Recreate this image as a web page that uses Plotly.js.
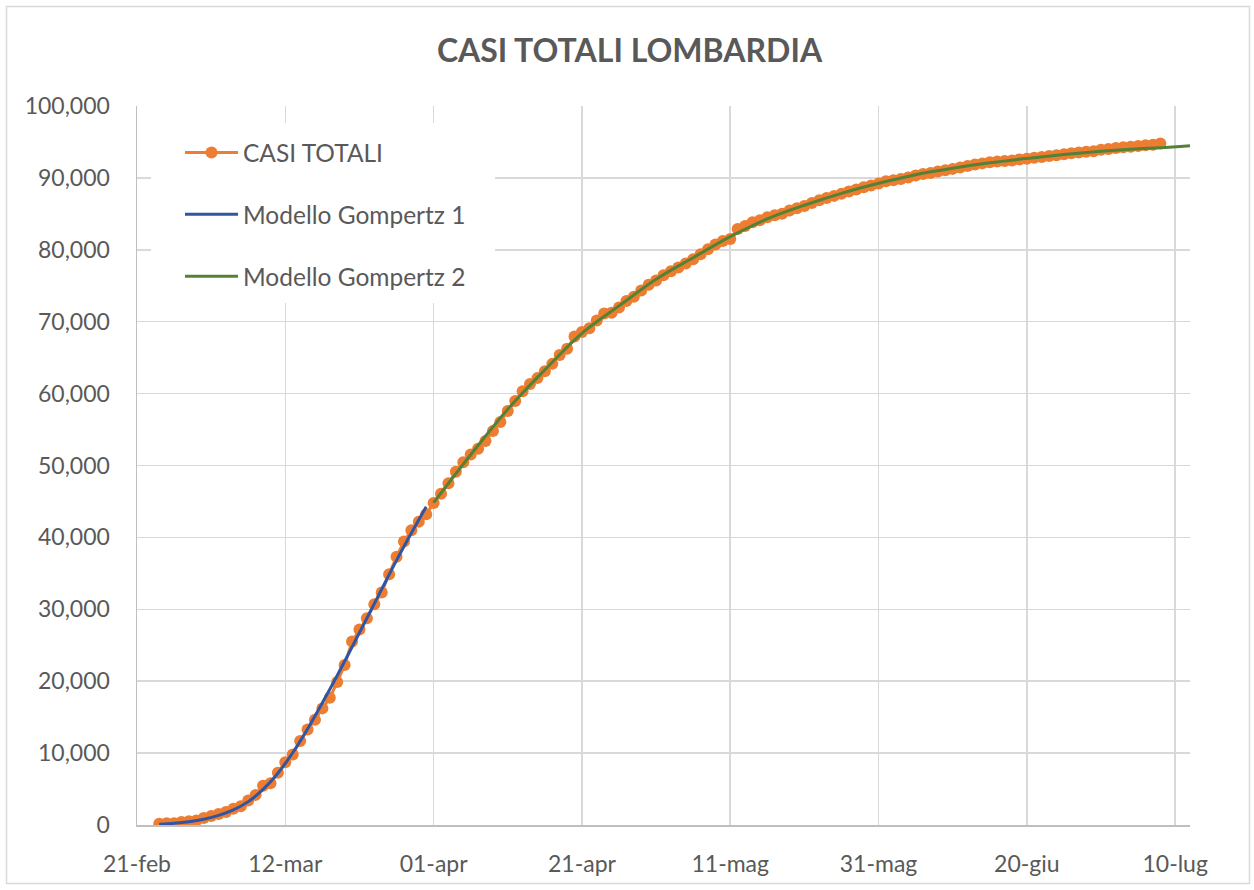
<!DOCTYPE html>
<html><head><meta charset="utf-8">
<script src="https://cdn.plot.ly/plotly-3.0.1.min.js"></script>
<style>html,body{margin:0;padding:0;background:#fff}#chart{width:1254px;height:890px}</style>
</head><body><div id="chart"></div>
<script>
// ---- DATA ----
const casiStart = '2020-02-24';
const casiTotali = [
  172, 240, 258, 403, 531, 615,
  984, 1254, 1520, 1820, 2251, 2612, 3420, 4189, 5469, 5791, 7280, 8725, 9820, 11685, 13272, 14649, 16220, 17713, 19884, 22264, 25515, 27206, 28761, 30703, 32346, 34889, 37298, 39415, 41007, 42161, 43208,
  44773, 46065, 47520, 49118, 50455, 51534, 52325, 53414, 54802, 56048, 57592, 58966, 60314, 61326, 62153, 63094, 64135, 65381, 66236, 67931, 68580, 69092, 70165, 71140, 71256, 71969, 72889, 73479, 74348, 75134,
  75732, 76469, 77002, 77528, 78105, 78677, 79369, 80089, 80723, 81225, 81507, 82904, 83298, 83820, 84119, 84518, 84804, 85019, 85481, 85775, 86091, 86500, 86900, 87200, 87500, 87800, 88100, 88400, 88700, 88950, 89205,
  89526, 89665, 89842, 90070, 90333, 90534, 90681, 90889, 91050, 91255, 91449, 91651, 91861, 92020, 92181, 92264, 92355, 92431, 92567, 92675, 92818, 92901, 93040, 93147, 93296, 93419, 93548, 93626, 93700, 93901,
  94019, 94172, 94255, 94334, 94449, 94545, 94614, 94781
];
const g1Dates = ['2020-02-24','2020-02-26','2020-02-28','2020-03-01','2020-03-03','2020-03-05','2020-03-07','2020-03-09','2020-03-11','2020-03-13','2020-03-15','2020-03-17','2020-03-19','2020-03-21','2020-03-23','2020-03-25','2020-03-27','2020-03-29','2020-03-31'];
const g1Values = [100, 230, 450, 800, 1330, 2100, 3250, 4950, 7200, 10050, 13350, 17000, 20800, 24750, 28750, 32800, 36800, 40600, 44270];
const g2Dates = ['2020-04-01','2020-04-06','2020-04-11','2020-04-16','2020-04-21','2020-04-26','2020-05-01','2020-05-06','2020-05-11','2020-05-16','2020-05-21','2020-05-26','2020-05-31','2020-06-05','2020-06-10','2020-06-15','2020-06-20','2020-06-25','2020-06-30','2020-07-05','2020-07-08','2020-07-12'];
const g2Values = [44830, 51500, 57830, 63300, 68390, 72200, 75900, 78900, 81830, 84300, 86200, 87850, 89250, 90450, 91350, 92100, 92710, 93250, 93700, 94050, 94200, 94480];
const tickDates = ['2020-02-21','2020-03-12','2020-04-01','2020-04-21','2020-05-11','2020-05-31','2020-06-20','2020-07-10'];
const tickLabels = ['21-feb','12-mar','01-apr','21-apr','11-mag','31-mag','20-giu','10-lug'];
const seriesNames = ['CASI TOTALI','Modello Gompertz 1','Modello Gompertz 2'];

function dayList(start, n){
  const out = [];
  const d0 = new Date(start + 'T00:00:00Z');
  for (let i = 0; i < n; i++) {
    const d = new Date(d0.getTime() + i * 86400000);
    out.push(d.toISOString().slice(0,10));
  }
  return out;
}
const casiDates = dayList(casiStart, casiTotali.length);

const txt = '#595959';
const font = 'Lato, "Open Sans", sans-serif';

const traces = [
  {x: casiDates, y: casiTotali, name: seriesNames[0], type: 'scatter', mode: 'lines+markers',
   line: {color: '#ED7D31', width: 3}, marker: {color: '#ED7D31', size: 12}, legendgroup: 'a'},
  {x: g1Dates, y: g1Values, name: seriesNames[1], type: 'scatter', mode: 'lines',
   line: {color: '#2F55A4', width: 3, shape: 'spline'}, legendgroup: 'b'},
  {x: g2Dates, y: g2Values, name: seriesNames[2], type: 'scatter', mode: 'lines', cliponaxis: false,
   line: {color: '#548235', width: 3, shape: 'spline'}, legendgroup: 'c'}
];

const W = 1053, H = 719, L = 137, B = 65;
function px(x){ return (x - L) / W; }
function py(y){ return (890 - B - y) / H; }

const layout = {
  width: 1254, height: 890,
  margin: {l: L, r: 1254 - L - W, t: 890 - B - H, b: B},
  paper_bgcolor: '#fff', plot_bgcolor: '#fff',
  font: {family: font, color: txt, size: 23},
  title: {text: '<b>CASI TOTALI LOMBARDIA</b>', font: {family: font, size: 32, color: txt},
          x: 0.502, xanchor: 'center', y: 1 - 51/890, yanchor: 'middle'},
  xaxis: {type: 'date', range: ['2020-02-21', '2020-07-12'], tickvals: tickDates, ticktext: tickLabels,
          showgrid: true, gridcolor: '#d9d9d9', gridwidth: 1.5, showline: true, linecolor: '#bfbfbf', linewidth: 1.5,
          ticks: 'outside', ticklen: 18, tickcolor: 'rgba(0,0,0,0)', tickfont: {size: 23, color: txt}, zeroline: false},
  yaxis: {range: [0, 100000], dtick: 10000, tickformat: ',d', showgrid: true, gridcolor: '#d9d9d9', gridwidth: 1.5,
          showline: true, linecolor: '#bfbfbf', linewidth: 1.5, zeroline: false,
          ticks: 'outside', ticklen: 21, tickcolor: 'rgba(0,0,0,0)', tickfont: {size: 23, color: txt}},
  showlegend: true,
  legend: {x: px(180), y: py(130), xanchor: 'left', yanchor: 'top', bgcolor: 'rgba(0,0,0,0)',
           font: {family: font, size: 24.5, color: txt}, traceorder: 'grouped', tracegroupgap: 27, itemwidth: 53},
  shapes: [
    {type: 'rect', xref: 'paper', yref: 'paper', x0: px(151), x1: px(495), y0: py(303), y1: py(123),
     fillcolor: '#ffffff', line: {width: 0}, layer: 'above'},
    {type: 'rect', xref: 'paper', yref: 'paper', x0: px(6.5), x1: px(1249.5), y0: py(883.5), y1: py(6.5),
     fillcolor: 'rgba(0,0,0,0)', line: {color: '#d9d9d9', width: 1.5}, layer: 'below'}
  ]
};

Plotly.newPlot('chart', traces, layout, {displayModeBar: false, staticPlot: true});
</script>
</body></html>
